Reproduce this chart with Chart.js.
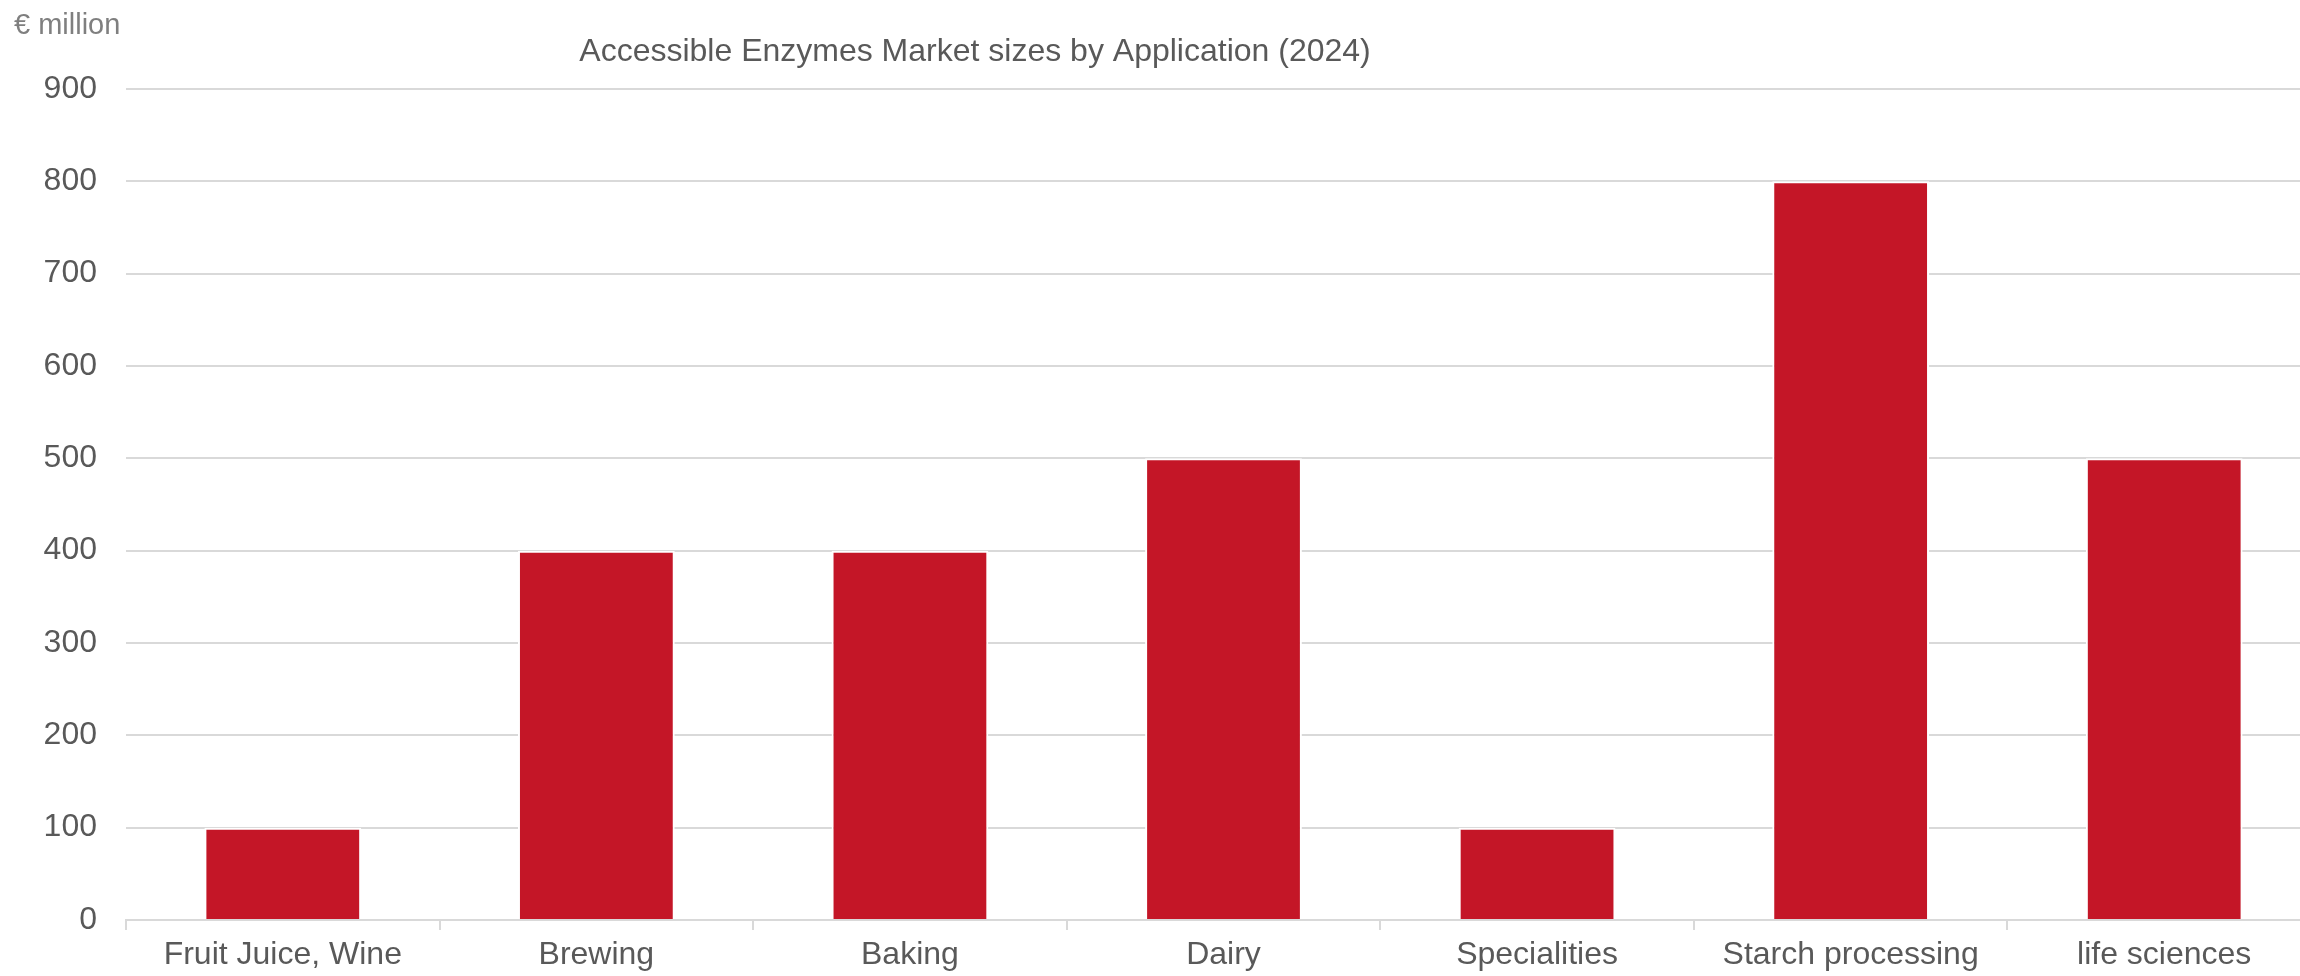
<!DOCTYPE html>
<html>
<head>
<meta charset="utf-8">
<script src="https://cdn.jsdelivr.net/npm/chart.js@4"></script>
<style>
  html, body { margin: 0; padding: 0; background: #ffffff; overflow: hidden; }
  #wrap { position: relative; width: 2321px; height: 976px; }
</style>
</head>
<body>
<div id="wrap"><canvas id="c"></canvas></div>
<script>
const categories = ["Fruit Juice, Wine", "Brewing", "Baking", "Dairy", "Specialities", "Starch processing", "life sciences"];
const marketSize = [100, 400, 400, 500, 100, 800, 500];
const yMin = 0;
const yMax = 900;
const yStep = 100;
const chartTitle = "Accessible Enzymes Market sizes by Application (2024)";
const unitLabel = "€ million";

const FONT = "'Liberation Sans', Arial, Helvetica, sans-serif";

const textPlugin = {
  id: 'textPlugin',
  afterDraw(chart) {
    const ctx = chart.ctx;
    ctx.save();
    ctx.textBaseline = 'middle';
    ctx.fillStyle = '#7f7f7f';
    ctx.font = "29px " + FONT;
    ctx.textAlign = 'left';
    ctx.fillText(unitLabel, 14, 26);
    ctx.fillStyle = '#595959';
    ctx.font = "32px " + FONT;
    ctx.textAlign = 'center';
    ctx.fillText(chartTitle, 975, 52);
    ctx.restore();
  }
};

new Chart(document.getElementById('c'), {
  type: 'bar',
  data: {
    labels: categories,
    datasets: [{
      data: marketSize,
      backgroundColor: '#c41627',
      borderColor: '#ffffff',
      borderWidth: 2,
      borderSkipped: 'bottom',
      barPercentage: 0.5,
      categoryPercentage: 1.0
    }]
  },
  options: {
    responsive: true,
    maintainAspectRatio: false,
    devicePixelRatio: 1,
    animation: false,
    layout: { padding: { top: 89, right: 0, bottom: 0, left: 0 } },
    plugins: {
      legend: { display: false },
      title: { display: false },
      tooltip: { enabled: false }
    },
    scales: {
      x: {
        offset: true,
        grid: {
          offset: true,
          drawOnChartArea: false,
          drawTicks: true,
          tickLength: 10,
          color: '#d9d9d9',
          lineWidth: 2
        },
        border: { display: true, color: '#d9d9d9', width: 2 },
        ticks: {
          color: '#595959',
          font: { family: FONT, size: 32 },
          padding: 6,
          maxRotation: 0,
          autoSkip: false
        },
        afterFit(scale) { scale.height = 56; }
      },
      y: {
        min: yMin,
        max: yMax,
        grid: {
          color: '#d9d9d9',
          lineWidth: 2,
          drawTicks: false
        },
        border: { display: false },
        ticks: {
          stepSize: yStep,
          color: '#595959',
          font: { family: FONT, size: 32 },
          padding: 29
        },
        afterFit(scale) { scale.width = 126; }
      }
    }
  },
  plugins: [textPlugin]
});
</script>
</body>
</html>
